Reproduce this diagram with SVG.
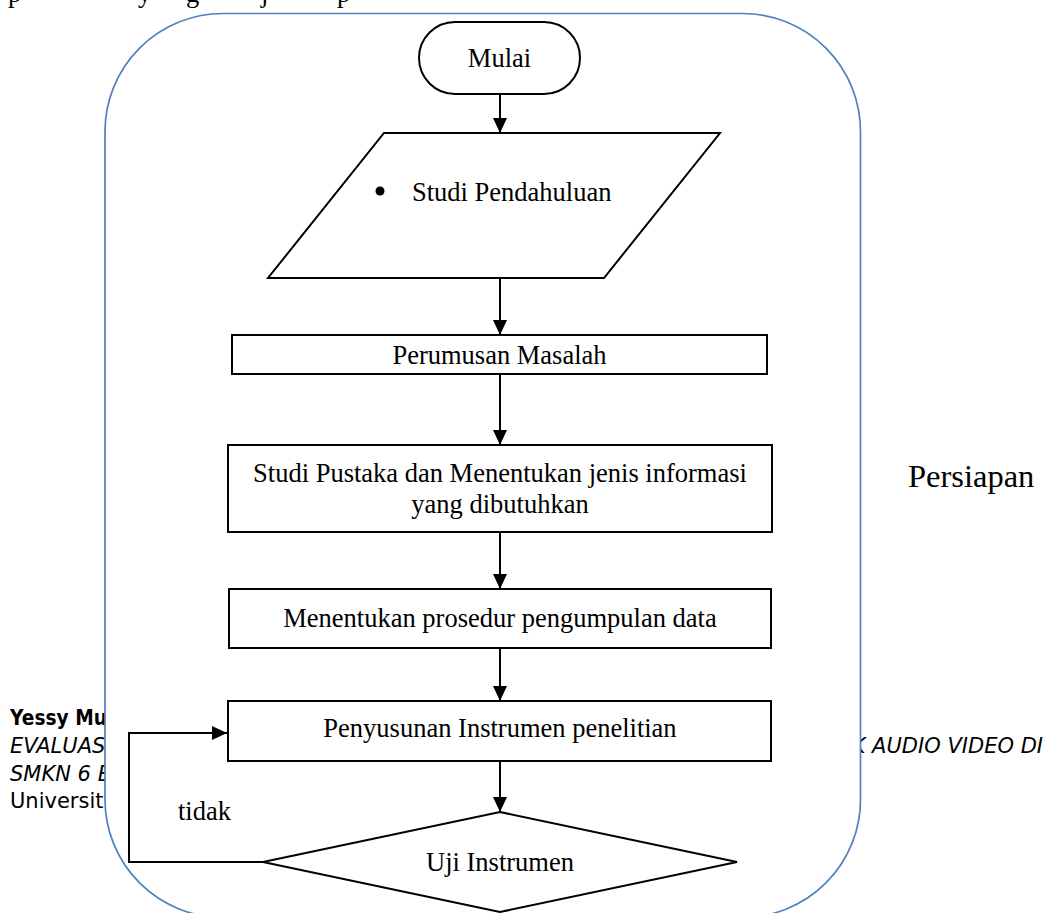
<svg xmlns="http://www.w3.org/2000/svg" width="1051" height="913" viewBox="0 0 1051 913">
<defs>
<style>
.t{font-family:"Liberation Serif","Times New Roman",serif;font-size:26.5px;fill:#000}
.p{font-family:"Liberation Serif","Times New Roman",serif;font-size:32.5px;fill:#000}
.f{font-family:"DejaVu Sans",sans-serif;font-size:21px;fill:#000}
.n{fill:#fff;stroke:#000;stroke-width:2}
.c{fill:none;stroke:#000;stroke-width:2}
</style>
<marker id="ah" viewBox="0 0 15 14" refX="15" refY="7" markerWidth="15" markerHeight="14" markerUnits="userSpaceOnUse" orient="auto">
<path d="M0,0 L15,7 L0,14 Z" fill="#000"/>
</marker>
</defs>
<rect width="1051" height="913" fill="#fff"/>
<text class="t" x="8 138 186 261 337" y="1.5">pygjp</text>
<g id="footer">
<text class="f" x="10" y="725" font-weight="bold" textLength="97" lengthAdjust="spacingAndGlyphs">Yessy Mu</text>
<text class="f" x="10" y="753" font-style="italic">EVALUAS</text>
<text class="f" x="10" y="781" font-style="italic">SMKN 6 B</text>
<text class="f" x="10" y="808">Universit</text>
<text class="f" x="1043" y="753" font-style="italic" text-anchor="end">K AUDIO VIDEO DI</text>
</g>
<g id="persiapan-frame">
<rect x="105" y="13.5" width="755.5" height="904" rx="118" ry="118" fill="#fff" stroke="#4f81bd" stroke-width="1.7"/>
</g>
<text class="p" x="908" y="487">Persiapan</text>
<g id="connectors">
<line class="c" x1="500" y1="94" x2="500" y2="133" marker-end="url(#ah)"/>
<line class="c" x1="500" y1="278" x2="500" y2="335" marker-end="url(#ah)"/>
<line class="c" x1="500" y1="374" x2="500" y2="445" marker-end="url(#ah)"/>
<line class="c" x1="500" y1="532" x2="500" y2="589" marker-end="url(#ah)"/>
<line class="c" x1="500" y1="648" x2="500" y2="701" marker-end="url(#ah)"/>
<line class="c" x1="500" y1="761" x2="500" y2="812" marker-end="url(#ah)"/>
<polyline class="c" points="263,862 129,862 129,733 227,733" marker-end="url(#ah)"/>
<text class="t" x="178" y="820">tidak</text>
</g>
<g id="mulai">
<rect class="n" x="419" y="22" width="161" height="72" rx="36" ry="36"/>
<text class="t" x="499.5" y="67" text-anchor="middle">Mulai</text>
</g>
<g id="studi-pendahuluan">
<polygon class="n" points="384,133 720,133 604,278 268,278"/>
<circle cx="380" cy="191" r="4.5" fill="#000"/>
<text class="t" x="412" y="201">Studi Pendahuluan</text>
</g>
<g id="perumusan-masalah">
<rect class="n" x="232" y="335" width="535" height="39"/>
<text class="t" x="499.5" y="364" text-anchor="middle">Perumusan Masalah</text>
</g>
<g id="studi-pustaka">
<rect class="n" x="228" y="445" width="544" height="87"/>
<text class="t" x="500" y="482" text-anchor="middle">Studi Pustaka dan Menentukan jenis informasi</text>
<text class="t" x="500" y="513" text-anchor="middle">yang dibutuhkan</text>
</g>
<g id="prosedur">
<rect class="n" x="229" y="589" width="542" height="59"/>
<text class="t" x="500" y="627" text-anchor="middle">Menentukan prosedur pengumpulan data</text>
</g>
<g id="penyusunan">
<rect class="n" x="228" y="701" width="543" height="60"/>
<text class="t" x="500" y="737" text-anchor="middle">Penyusunan Instrumen penelitian</text>
</g>
<g id="uji-instrumen">
<polygon class="n" points="500,812 737,862 500,912 263,862"/>
<text class="t" x="500" y="871" text-anchor="middle">Uji Instrumen</text>
</g>
</svg>
